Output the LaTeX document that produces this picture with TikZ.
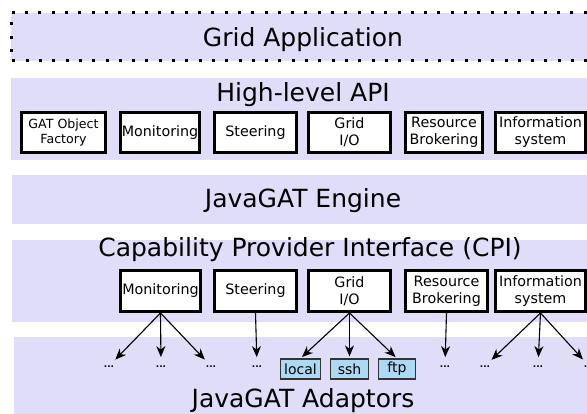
\documentclass[tikz,border=0pt]{standalone}
\usepackage{fontspec}
\setmainfont{DejaVu Sans}
\usetikzlibrary{arrows.meta}
\definecolor{layer}{RGB}{224,221,248}
\definecolor{adaptor}{RGB}{172,218,244}

\begin{document}
\begin{tikzpicture}[x=1pt,y=-1pt,
  title/.style={anchor=base,inner sep=0pt,font=\fontsize{25}{28}\selectfont},
  apibox/.style={draw,line width=3pt,fill=white,align=center,inner sep=1pt,font=\fontsize{14.3}{17}\selectfont},
  adaptbox/.style={draw=black!80,line width=1.2pt,fill=adaptor,minimum height=20pt,inner sep=1pt,font=\fontsize{14}{16}\selectfont},
  dots/.style={anchor=base,inner sep=0pt,font=\bfseries\fontsize{9}{9}\selectfont},
  link/.style={-{Stealth[length=11pt,width=9pt,inset=3.5pt]},line width=1.1pt}]
\useasboundingbox (0,0) rectangle (587,414);
\clip (0,0) rectangle (587,414);

% Layers
\fill[layer] (11,13) rectangle (600,61);
\draw[line width=3pt,dash pattern=on 3pt off 10.3pt] (600,13) -- (11,13) -- (11,61) -- (600,61);
\fill[layer] (11,78) rectangle (600,160);
\fill[layer] (12,175) rectangle (600,224);
\fill[layer] (12,240) rectangle (600,322);
\fill[layer] (14,337) rectangle (600,414);

% Layer titles
\node[title] (app) at (303,47) {Grid Application};
\node[title] (api) at (303,102) {High-level API};
\node[title] (engine) at (303,208) {JavaGAT Engine};
\node[title] (cpi) at (310,257) {Capability Provider Interface (CPI)};
\node[title] (adaptors) at (303,407) {JavaGAT Adaptors};

% High-level API packages
\node[apibox,minimum width=84pt,minimum height=40pt,font=\fontsize{12.6}{15}\selectfont] (hgat) at (63.5,132.5) {GAT Object\\Factory};
\node[apibox,minimum width=79pt,minimum height=40pt] (hmon) at (160,132.5) {Monitoring};
\node[apibox,minimum width=82pt,minimum height=40pt] (hsteer) at (255.5,132.5) {Steering};
\node[apibox,minimum width=82pt,minimum height=40pt] (hio) at (349.5,132.5) {Grid\\I/O};
\node[apibox,minimum width=77pt,minimum height=40pt] (hres) at (444,132.5) {Resource\\Brokering};
\node[apibox,minimum width=90pt,minimum height=40pt] (hinfo) at (540.5,132.5) {Information\\system};

% CPI packages
\node[apibox,minimum width=80pt,minimum height=41pt] (cmon) at (160.5,291) {Monitoring};
\node[apibox,minimum width=82pt,minimum height=41pt] (csteer) at (255.5,291) {Steering};
\node[apibox,minimum width=82pt,minimum height=41pt] (cio) at (349.5,291) {Grid\\I/O};
\node[apibox,minimum width=82pt,minimum height=41pt] (cres) at (446.5,291) {Resource\\Brokering};
\node[apibox,minimum width=90pt,minimum height=41pt] (cinfo) at (540.5,291) {Information\\system};

% Adaptors
\node[adaptbox,minimum width=40pt] (local) at (300.5,369) {local};
\node[adaptbox,minimum width=38pt] (ssh) at (349.5,369) {ssh};
\node[adaptbox,minimum width=37pt] (ftp) at (397,369) {ftp};
\node[dots] (d1) at (109,368) {...};
\node[dots] (d2) at (161,368) {...};
\node[dots] (d3) at (211,368) {...};
\node[dots] (d4) at (257,368) {...};
\node[dots] (d5) at (445,368) {...};
\node[dots] (d6) at (485,368) {...};
\node[dots] (d7) at (538,368) {...};
\node[dots] (d8) at (589,368) {...};

% CPI to adaptors
\draw[link,shorten >=9pt] (cmon.south) -- (d1.north);
\draw[link,shorten >=9pt] (cmon.south) -- (d2.north);
\draw[link,shorten >=9pt] (cmon.south) -- (d3.north);
\draw[link,shorten >=9pt] (csteer.south) -- (d4.north);
\draw[link,shorten >=2pt] (cio.south) -- (local.north);
\draw[link,shorten >=2pt] (cio.south) -- (ssh.north);
\draw[link,shorten >=2pt] (cio.south) -- (ftp.north);
\draw[link,shorten >=9pt] (cres.south) -- (d5.north);
\draw[link,shorten >=9pt] (cinfo.south) -- (d6.north);
\draw[link,shorten >=9pt] (cinfo.south) -- (d7.north);
\draw[link,shorten >=9pt] (cinfo.south) -- (d8.north);
\end{tikzpicture}
\end{document}
